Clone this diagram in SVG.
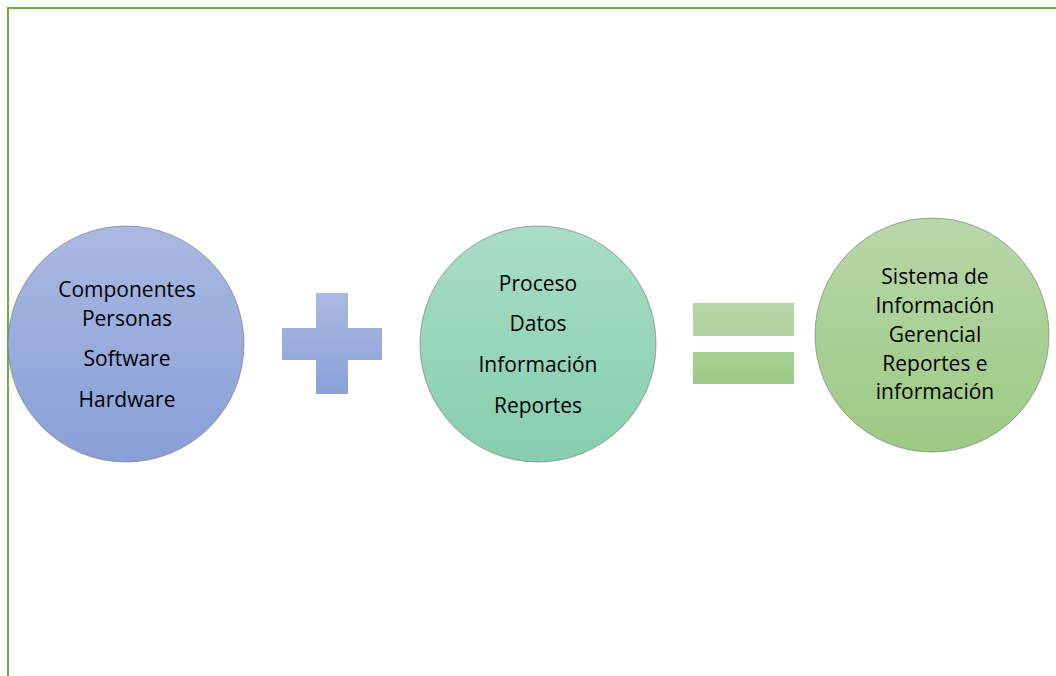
<svg xmlns="http://www.w3.org/2000/svg" width="1056" height="676" viewBox="0 0 1056 676">
<defs>
<linearGradient id="gBlue" x1="0" y1="0" x2="0" y2="1"><stop offset="0" stop-color="#A9B9E1"/><stop offset="1" stop-color="#889FD7"/></linearGradient>
<linearGradient id="gTeal" x1="0" y1="0" x2="0" y2="1"><stop offset="0" stop-color="#A9DDC7"/><stop offset="1" stop-color="#85CEAD"/></linearGradient>
<linearGradient id="gGreen" x1="0" y1="0" x2="0" y2="1"><stop offset="0" stop-color="#B7D7A8"/><stop offset="1" stop-color="#9CC983"/></linearGradient>
<linearGradient id="gPlus" x1="0" y1="0" x2="0" y2="1"><stop offset="0" stop-color="#A9B9E1"/><stop offset="1" stop-color="#8AA1D8"/></linearGradient>
<linearGradient id="gEq1" x1="0" y1="0" x2="0" y2="1"><stop offset="0" stop-color="#B5D6A6"/><stop offset="1" stop-color="#AFD39E"/></linearGradient>
<linearGradient id="gEq2" x1="0" y1="0" x2="0" y2="1"><stop offset="0" stop-color="#A8D095"/><stop offset="1" stop-color="#9DCA84"/></linearGradient>
</defs>
<style>
.circ{stroke:#6f6f6f;stroke-opacity:0.6;stroke-width:1}
.lbl{font-family:"Open Sans","Liberation Sans",sans-serif;font-size:21px;fill:#000;text-anchor:middle}
.border{stroke:#70AD47;stroke-width:2;fill:none}
</style>
<rect width="1056" height="676" fill="#fff"/>
<path class="border" d="M8,676 V8 H1056"/>
<g id="node-componentes">
<circle class="circ" cx="126" cy="344" r="118" fill="url(#gBlue)"/>
<text class="lbl" x="127" y="297">Componentes</text>
<text class="lbl" x="127" y="326">Personas</text>
<text class="lbl" x="127" y="366">Software</text>
<text class="lbl" x="127" y="407">Hardware</text>
</g>
<g id="node-plus">
<path d="M316,293 H348 V328 H382 V360 H348 V394 H316 V360 H282 V328 H316 Z" fill="url(#gPlus)"/>
</g>
<g id="node-proceso">
<circle class="circ" cx="538" cy="344" r="118" fill="url(#gTeal)"/>
<text class="lbl" x="538" y="291">Proceso</text>
<text class="lbl" x="538" y="331">Datos</text>
<text class="lbl" x="538" y="372">Información</text>
<text class="lbl" x="538" y="413">Reportes</text>
</g>
<g id="node-equals">
<rect x="693" y="303" width="101" height="33" fill="url(#gEq1)"/>
<rect x="693" y="352" width="101" height="32" fill="url(#gEq2)"/>
</g>
<g id="node-sistema">
<circle class="circ" cx="932" cy="335" r="117" fill="url(#gGreen)"/>
<text class="lbl" x="935" y="284">Sistema de</text>
<text class="lbl" x="935" y="313">Información</text>
<text class="lbl" x="935" y="342">Gerencial</text>
<text class="lbl" x="935" y="371">Reportes e</text>
<text class="lbl" x="935" y="399">información</text>
</g>
<g id="connectors"></g>
</svg>
